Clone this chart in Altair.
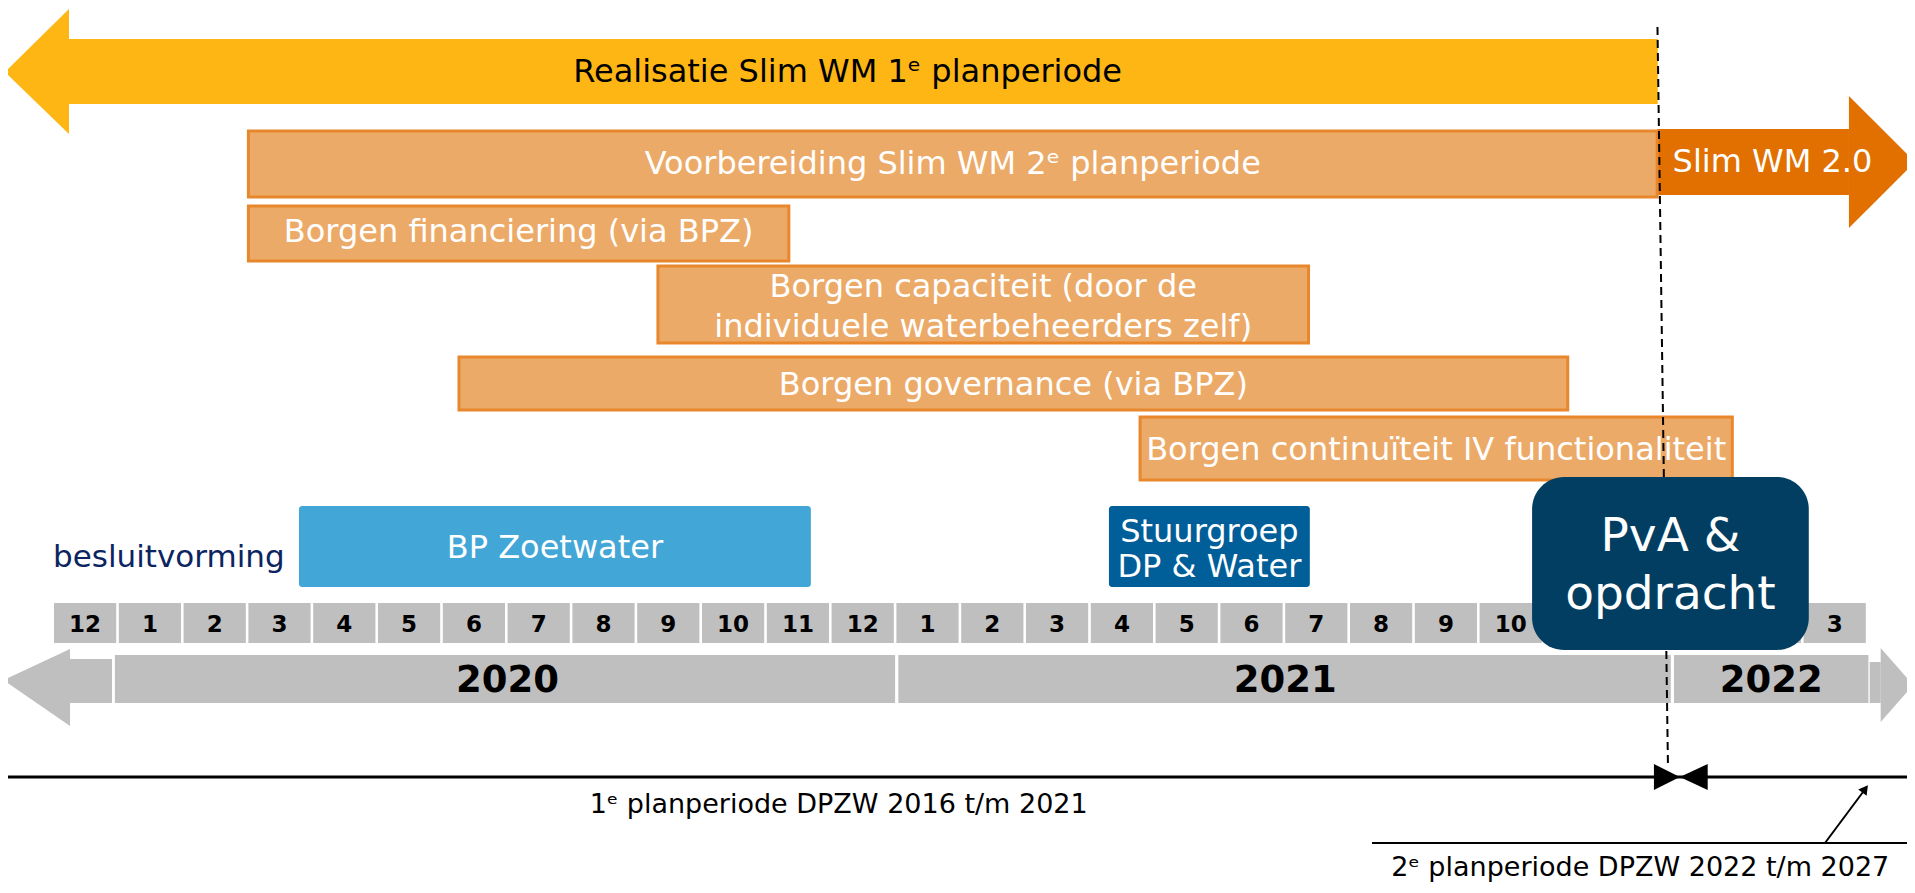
import altair as alt
import pandas as pd

FONT = "DejaVu Sans"

# ---------------- data ----------------
# timeline (x unit = month index; cell i covers [i, i+1])
month_labels = [12, 1, 2, 3, 4, 5, 6, 7, 8, 9, 10, 11, 12,
                1, 2, 3, 4, 5, 6, 7, 8, 9, 10, 11, 12, 1, 2, 3]
year_labels = ["2020", "2021", "2022"]
year_start = [0.94, 13.03, 25.0]
year_end = [12.98, 24.95, 28.0]

# orange activity bars
task_labels = [
    "Voorbereiding Slim WM 2ᵉ planperiode",
    "Borgen financiering (via BPZ)",
    "Borgen capaciteit (door de\nindividuele waterbeheerders zelf)",
    "Borgen governance (via BPZ)",
    "Borgen continuïteit IV functionaliteit",
]
task_start = [3.0, 3.0, 9.32, 6.25, 16.76]
task_end = [24.74, 11.34, 19.36, 23.36, 25.9]

# decision bodies
decision_labels = ["BP Zoetwater", "Stuurgroep\nDP & Water"]
decision_start = [3.78, 16.28]
decision_end = [11.68, 19.38]
decision_colors = ["#42A6D6", "#005E99"]

milestone_label = "PvA &\nopdracht"
milestone_start, milestone_end = 22.81, 27.08

realisatie_label = "Realisatie Slim WM 1ᵉ planperiode"
realisatie_tip, realisatie_head, realisatie_end = -0.756, 0.231, 24.75
slim_label = "Slim WM 2.0"
slim_start, slim_head, slim_tip = 24.74, 27.7, 28.72

period_labels = ["1ᵉ planperiode DPZW 2016 t/m 2021",
                 "2ᵉ planperiode DPZW 2022 t/m 2027"]
period_boundary = 25.09
period_label_x = [12.11, 24.48]
period2_line_start = 20.34
dash_x = [24.745, 24.907]

# ---------------- layout (vertical positions, page pixels) ----------------
X0, X1 = -0.7099, 28.5957
XL, XR = -0.72, 28.75
lane_top = [131, 206, 266, 357, 417]
lane_bot = [197, 261, 343, 410, 480]
lane_text = [164, 232, 287, 385, 450]   # centre of (first) text line
dec_top, dec_bot = 506, 587
dec_text = [548, 532]
pva_top, pva_bot = 477, 650
pva_text = 537
cell_top, cell_bot = 603, 643
yr_top, yr_bot = 655, 703
realis = dict(top=39, bot=104, htop=9, hbot=134)
slim = dict(top=129, bot=195, htop=96, hbot=228)

xs = alt.Scale(domain=[X0, X1], nice=False, zero=False)
ys = alt.Scale(domain=[8, 885], reverse=True, nice=False, zero=False)


def X(f):
    return alt.X(f, type="quantitative", scale=xs, axis=None)


def Y(f):
    return alt.Y(f, type="quantitative", scale=ys, axis=None, stack=None)


def mid(a, b):
    return (a + b) / 2

# ---------------- frames ----------------
shafts = pd.DataFrame({
    "x": [realisatie_head, slim_start, 0.247, 28.02],
    "x2": [realisatie_end, slim_head, 0.895, 28.19],
    "y": [realis["top"], slim["top"], 659, 662],
    "y2": [realis["bot"], slim["bot"], 703, 703],
    "c": ["#FDB614", "#E17000", "#BFBFBF", "#BFBFBF"],
})

tri_rows = []
def tri(tid, x_a, ya, ya2, x_b, yb, yb2, c):
    tri_rows.append(dict(id=tid, x=x_a, y=ya, y2=ya2, c=c))
    tri_rows.append(dict(id=tid, x=x_b, y=yb, y2=yb2, c=c))

tri("realis", realisatie_tip, 72, 72, realisatie_head, realis["htop"], realis["hbot"], "#FDB614")
tri("slim", slim_head, slim["htop"], slim["hbot"], slim_tip, 162, 162, "#E17000")
tri("gl", -0.78, 680, 680, 0.247, 649, 726, "#BFBFBF")
tri("gr", 28.19, 648, 722, 28.69, 685, 685, "#BFBFBF")
tri("b1", 24.69, 764, 790, period_boundary, 777, 777, "#000000")
tri("b2", period_boundary, 777, 777, 25.52, 764, 790, "#000000")
tris = pd.DataFrame(tri_rows)

tasks = pd.DataFrame({
    "label": task_labels, "x": task_start, "x2": task_end,
    "y": lane_top, "y2": lane_bot, "ym": lane_text,
})
tasks["xm"] = (tasks["x"] + tasks["x2"]) / 2

decisions = pd.DataFrame({
    "label": decision_labels, "x": decision_start, "x2": decision_end,
    "y": [dec_top] * 2, "y2": [dec_bot] * 2, "c": decision_colors, "ym": dec_text,
})
decisions["xm"] = (decisions["x"] + decisions["x2"]) / 2

cells = pd.DataFrame({"label": [str(m) for m in month_labels]})
cells["x"] = [i for i in range(len(month_labels))]
cells["x2"] = cells["x"] + 0.96
cells["xm"] = cells["x"] + 0.48
cells["y"] = cell_top
cells["y2"] = cell_bot
cells["ym"] = 625

years = pd.DataFrame({"label": year_labels, "x": year_start, "x2": year_end})
years["xm"] = [mid(a, b) for a, b in zip([1, 13, 25], [13, 25, 28])]
years["y"] = yr_top
years["y2"] = yr_bot
years["ym"] = 681

pva = pd.DataFrame({"label": [milestone_label], "x": [milestone_start], "x2": [milestone_end],
                    "y": [pva_top], "y2": [pva_bot]})
pva["xm"] = mid(milestone_start, milestone_end)
pva["ym"] = pva_text

lines = pd.DataFrame({"x": [XL, period2_line_start], "x2": [XR, XR], "y": [777, 843], "w": [3, 2]})
dash = pd.DataFrame({"x": [dash_x[0]], "x2": [dash_x[1]], "y": [27], "y2": [767]})
small_arrow = pd.DataFrame({"x": [27.33], "x2": [27.94], "y": [843], "y2": [790]})
arrow_head = pd.DataFrame({"x": [27.95], "y": [789]})

texts_black = pd.DataFrame({"label": [realisatie_label], "xm": [mid(realisatie_tip, realisatie_end) + 0.25], "ym": [72]})
texts_slim = pd.DataFrame({"label": [slim_label], "xm": [mid(slim_start, 28.3)], "ym": [162]})
besluit = pd.DataFrame({"label": ["besluitvorming"], "x": [-0.015], "ym": [558]})
periods = pd.DataFrame({"label": period_labels, "xm": period_label_x, "ym": [805, 868]})

# ---------------- layers ----------------
shaft_l = alt.Chart(shafts).mark_rect().encode(
    x=X("x"), x2="x2", y=Y("y"), y2="y2", color=alt.Color("c:N", scale=None))
tri_l = alt.Chart(tris).mark_area(opacity=1).encode(
    x=X("x"), y=Y("y"), y2="y2", color=alt.Color("c:N", scale=None), detail="id:N")
task_l = alt.Chart(tasks).mark_rect(fill="#ECAA68", stroke="#E8872C", strokeWidth=3).encode(
    x=X("x"), x2="x2", y=Y("y"), y2="y2")
dec_l = alt.Chart(decisions).mark_rect(cornerRadius=3).encode(
    x=X("x"), x2="x2", y=Y("y"), y2="y2", color=alt.Color("c:N", scale=None))
cell_l = alt.Chart(cells).mark_rect(color="#BFBFBF").encode(
    x=X("x"), x2="x2", y=Y("y"), y2="y2")
year_l = alt.Chart(years).mark_rect(color="#BFBFBF").encode(
    x=X("x"), x2="x2", y=Y("y"), y2="y2")
line_l = alt.Chart(lines).mark_rule(color="black").encode(
    x=X("x"), x2="x2", y=Y("y"), strokeWidth=alt.StrokeWidth("w:Q", scale=None))
dash_l = alt.Chart(dash).mark_rule(color="black", strokeWidth=2, strokeDash=[8, 5]).encode(
    x=X("x"), x2="x2", y=Y("y"), y2="y2")
sarrow_l = alt.Chart(small_arrow).mark_rule(color="black", strokeWidth=2).encode(
    x=X("x"), x2="x2", y=Y("y"), y2="y2")
ahead_l = alt.Chart(arrow_head).mark_point(shape="triangle-up", angle=37, size=110,
                                             filled=True, color="black", opacity=1).encode(
    x=X("x"), y=Y("y"))
pva_l = alt.Chart(pva).mark_rect(color="#023E62", cornerRadius=32).encode(
    x=X("x"), x2="x2", y=Y("y"), y2="y2")

task_txt = alt.Chart(tasks).mark_text(font=FONT, fontSize=32, color="white", baseline="middle",
                                      lineBreak="\n", lineHeight=40).encode(
    x=X("xm"), y=Y("ym"), text="label:N")
dec_txt = alt.Chart(decisions).mark_text(font=FONT, fontSize=32, color="white", baseline="middle",
                                         lineBreak="\n", lineHeight=35).encode(
    x=X("xm"), y=Y("ym"), text="label:N")
cell_txt = alt.Chart(cells).mark_text(font=FONT, fontSize=23, fontWeight="bold", color="black",
                                      baseline="middle").encode(x=X("xm"), y=Y("ym"), text="label:N")
year_txt = alt.Chart(years).mark_text(font=FONT, fontSize=37, fontWeight="bold", color="black",
                                      baseline="middle").encode(x=X("xm"), y=Y("ym"), text="label:N")
pva_txt = alt.Chart(pva).mark_text(font=FONT, fontSize=47, color="white", baseline="middle",
                                   lineBreak="\n", lineHeight=58).encode(x=X("xm"), y=Y("ym"), text="label:N")
black_txt = alt.Chart(texts_black).mark_text(font=FONT, fontSize=32, color="black",
                                             baseline="middle").encode(x=X("xm"), y=Y("ym"), text="label:N")
slim_txt = alt.Chart(texts_slim).mark_text(font=FONT, fontSize=32, color="white",
                                           baseline="middle").encode(x=X("xm"), y=Y("ym"), text="label:N")
bes_txt = alt.Chart(besluit).mark_text(font=FONT, fontSize=31, color="#0C2461", align="left",
                                       baseline="middle").encode(x=X("x"), y=Y("ym"), text="label:N")
per_txt = alt.Chart(periods).mark_text(font=FONT, fontSize=27, color="black",
                                       baseline="middle").encode(x=X("xm"), y=Y("ym"), text="label:N")

chart = alt.layer(
    shaft_l, tri_l, task_l, dec_l, cell_l, year_l, line_l,
    task_txt, dec_txt, cell_txt, year_txt, black_txt, slim_txt, bes_txt, per_txt,
    dash_l, sarrow_l, ahead_l, pva_l, pva_txt,
).properties(
    width=1899, height=877, padding=0,
    autosize=alt.AutoSizeParams(type="none"),
    background="white",
).configure_view(stroke=None)

chart.save("out.html", embed_options={"renderer": "svg", "actions": False})
